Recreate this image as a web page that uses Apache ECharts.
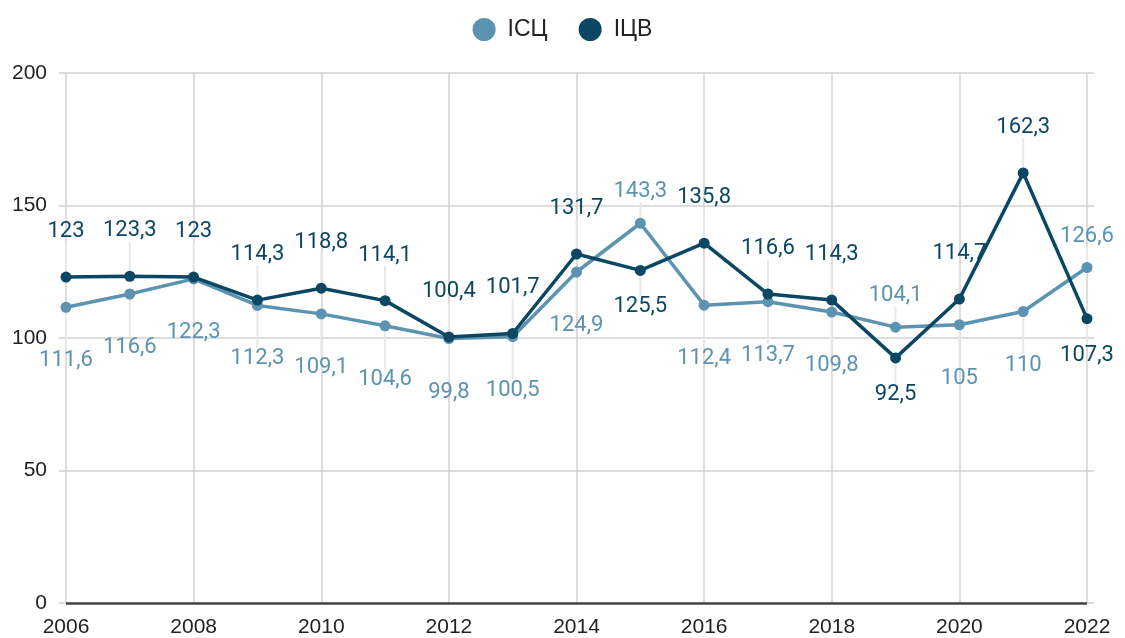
<!DOCTYPE html>
<html>
<head>
<meta charset="utf-8">
<title>ІСЦ / ІЦВ</title>
<script src="https://cdn.jsdelivr.net/npm/echarts@6/dist/echarts.min.js"></script>
<style>
  html, body { margin: 0; padding: 0; background: #fff; }
  #main { width: 1125px; height: 638px; }
</style>
</head>
<body>
<div id="main"></div>
<script type="text/javascript">
    // роки та значення
    var years = [2006, 2007, 2008, 2009, 2010, 2011, 2012, 2013, 2014, 2015, 2016, 2017, 2018, 2019, 2020, 2021, 2022];
    var isc = [111.6, 116.6, 122.3, 112.3, 109.1, 104.6, 99.8, 100.5, 124.9, 143.3, 112.4, 113.7, 109.8, 104.1, 105, 110, 126.6];
    var icv = [123, 123.3, 123, 114.3, 118.8, 114.1, 100.4, 101.7, 131.7, 125.5, 135.8, 116.6, 114.3, 92.5, 114.7, 162.3, 107.3];
    var yTicks = [0, 50, 100, 150, 200];

    // де стоїть підпис (над/під точкою)
    var iscAbove = [2015, 2019, 2022];
    var icvBelow = [2015, 2019, 2022];

    var lightColor = '#5b93b1';
    var darkColor = '#0b4662';
    var symSize = 11;

    function fmt(v) {
        return String(v).replace('.', ',');
    }

    var leaders = []; // [рік, значення, довжина зі знаком] для тонких ліній до підписів

    function buildData(vals, flip, normalPos, normalDist, flipDist) {
        var out = [];
        for (var i = 0; i < vals.length; i++) {
            var isFlip = flip.indexOf(years[i]) >= 0;
            var pos = isFlip ? (normalPos === 'top' ? 'bottom' : 'top') : normalPos;
            var dist = isFlip ? flipDist : normalDist;
            out.push({
                value: [years[i], vals[i]],
                label: { position: pos, distance: dist }
            });
            leaders.push([years[i], vals[i], (pos === 'top' ? -1 : 1) * (dist + symSize / 2)]);
        }
        return out;
    }

    var iscData = buildData(isc, iscAbove, 'bottom', 37, 15);
    var icvData = buildData(icv, icvBelow, 'top', 29, 20);

    var myChart = echarts.init(document.getElementById('main'));

    var labelFont = 'Roboto, "Liberation Sans", Arial, sans-serif';
    var axisFont = '"Liberation Sans", Arial, sans-serif';

    var option = {
        animation: false,
        legend: {
            top: 13,
            left: 'center',
            icon: 'circle',
            itemWidth: 23,
            itemHeight: 23,
            itemGap: 31,
            textStyle: { fontSize: 23, color: '#222', fontFamily: axisFont, padding: [0, 0, 0, 7] },
            data: ['ІСЦ', 'ІЦВ']
        },
        grid: { left: 66, right: 38, top: 73, bottom: 35 },
        xAxis: {
            type: 'value',
            min: 2006,
            max: 2022,
            interval: 2,
            axisLine: { show: false },
            axisTick: { show: false },
            axisLabel: {
                margin: 14,
                fontSize: 21,
                color: '#222',
                fontFamily: axisFont,
                formatter: function (v) { return String(v); }
            },
            splitLine: { show: true, lineStyle: { color: '#d2d2d2', width: 1.5 } }
        },
        yAxis: [{
            type: 'value',
            min: yTicks[0],
            max: yTicks[yTicks.length - 1],
            interval: 50,
            axisLine: { show: false },
            axisTick: { show: true, length: 7, lineStyle: { color: '#d2d2d2', width: 1.5 } },
            axisLabel: { margin: 19, fontSize: 21, color: '#222', fontFamily: axisFont },
            splitLine: { show: true, lineStyle: { color: '#d2d2d2', width: 1.5 } }
        }, {
            type: 'value',
            position: 'right',
            min: yTicks[0],
            max: yTicks[yTicks.length - 1],
            interval: 50,
            axisLine: { show: false },
            axisTick: { show: true, length: 7, lineStyle: { color: '#d2d2d2', width: 1.5 } },
            axisLabel: { show: false },
            splitLine: { show: false }
        }],
        series: [{
            type: 'custom',
            silent: true,
            data: leaders,
            encode: { x: 0, y: 1 },
            renderItem: function (params, api) {
                var p = api.coord([api.value(0), api.value(1)]);
                var len = api.value(2);
                return {
                    type: 'line',
                    shape: { x1: p[0], y1: p[1], x2: p[0], y2: p[1] + len },
                    style: { stroke: '#e8e8e8', lineWidth: 2 }
                };
            },
            z: 1
        }, {
            name: 'ІСЦ',
            type: 'line',
            data: iscData,
            symbol: 'circle',
            symbolSize: symSize,
            itemStyle: { color: lightColor },
            lineStyle: { color: lightColor, width: 3.5 },
            label: {
                show: true,
                fontSize: 22,
                fontFamily: labelFont,
                color: lightColor,
                formatter: function (p) { return fmt(p.value[1]); }
            },
            markLine: {
                silent: true,
                symbol: 'none',
                label: { show: false },
                lineStyle: { color: '#444', width: 2.5, type: 'solid' },
                data: [{ yAxis: 0 }]
            },
            z: 2
        }, {
            name: 'ІЦВ',
            type: 'line',
            data: icvData,
            symbol: 'circle',
            symbolSize: symSize,
            itemStyle: { color: darkColor },
            lineStyle: { color: darkColor, width: 3.5 },
            label: {
                show: true,
                fontSize: 22,
                fontFamily: labelFont,
                color: darkColor,
                formatter: function (p) { return fmt(p.value[1]); }
            },
            z: 3
        }]
    };

    myChart.setOption(option);
</script>
</body>
</html>
